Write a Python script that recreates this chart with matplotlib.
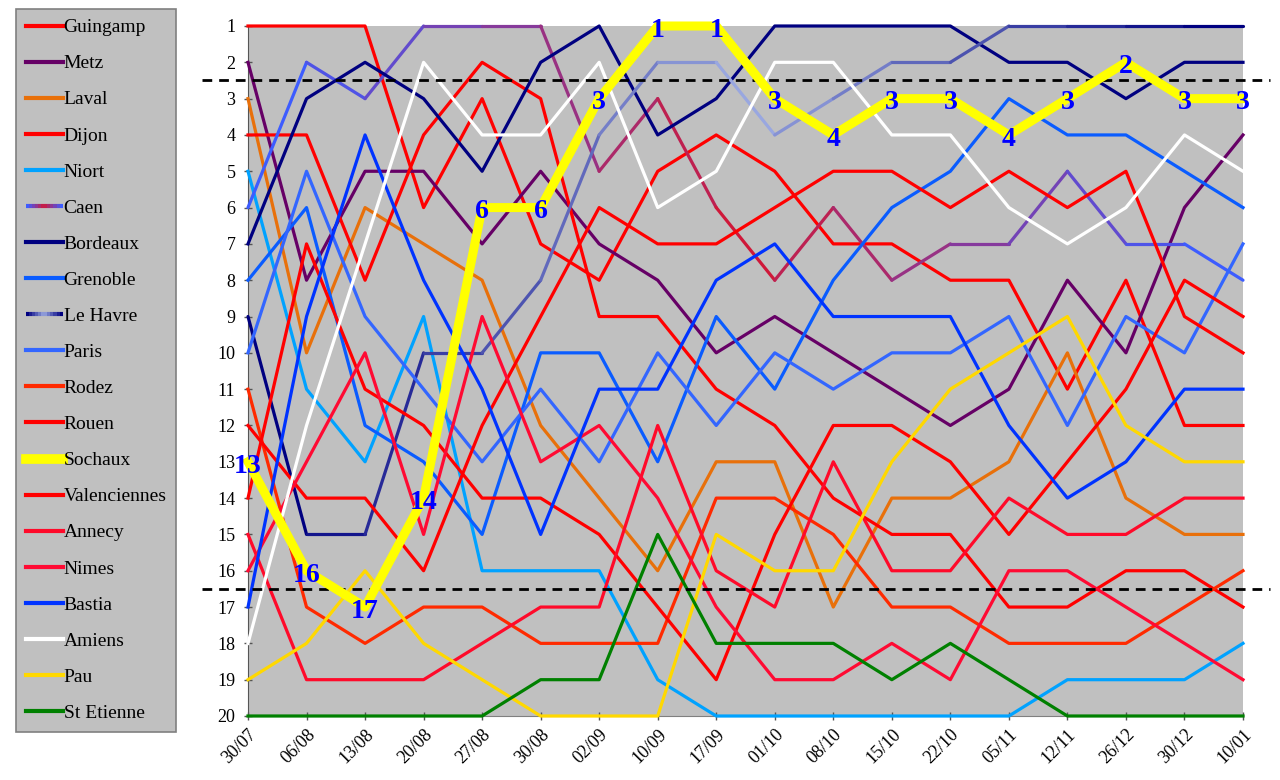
import numpy as np
import matplotlib
matplotlib.use("Agg")
import matplotlib.pyplot as plt
from matplotlib.collections import LineCollection
from matplotlib.colors import LinearSegmentedColormap
from matplotlib.legend_handler import HandlerBase
from matplotlib.lines import Line2D

plt.rcParams['font.family'] = ['Liberation Serif', 'DejaVu Serif']

# Dates (journées)
dates = ["30/07", "06/08", "13/08", "20/08", "27/08", "30/08", "02/09", "10/09", "17/09",
         "01/10", "08/10", "15/10", "22/10", "05/11", "12/11", "26/12", "30/12", "10/01"]

# Classement de chaque équipe
guingamp = [1, 1, 1, 6, 3, 7, 8, 5, 4, 5, 7, 7, 8, 8, 11, 8, 12, 12]
metz = [2, 8, 5, 5, 7, 5, 7, 8, 10, 9, 10, 11, 12, 11, 8, 10, 6, 4]
laval = [3, 10, 6, 7, 8, 12, 14, 16, 13, 13, 17, 14, 14, 13, 10, 14, 15, 15]
dijon = [4, 4, 8, 4, 2, 3, 9, 9, 11, 12, 14, 15, 15, 17, 17, 16, 16, 17]
niort = [5, 11, 13, 9, 16, 16, 16, 19, 20, 20, 20, 20, 20, 20, 19, 19, 19, 18]
caen = [6, 2, 3, 1, 1, 1, 5, 3, 6, 8, 6, 8, 7, 7, 5, 7, 7, 8]
bordeaux = [7, 3, 2, 3, 5, 2, 1, 4, 3, 1, 1, 1, 1, 2, 2, 3, 2, 2]
grenoble = [8, 6, 12, 13, 15, 10, 10, 13, 9, 11, 8, 6, 5, 3, 4, 4, 5, 6]
le_havre = [9, 15, 15, 10, 10, 8, 4, 2, 2, 4, 3, 2, 2, 1, 1, 1, 1, 1]
paris = [10, 5, 9, 11, 13, 11, 13, 10, 12, 10, 11, 10, 10, 9, 12, 9, 10, 7]
rodez = [11, 17, 18, 17, 17, 18, 18, 18, 14, 14, 15, 17, 17, 18, 18, 18, 17, 16]
rouen = [12, 14, 14, 16, 12, 9, 6, 7, 7, 6, 5, 5, 6, 5, 6, 5, 9, 10]
sochaux = [13, 16, 17, 14, 6, 6, 3, 1, 1, 3, 4, 3, 3, 4, 3, 2, 3, 3]
valenciennes = [14, 7, 11, 12, 14, 14, 15, 17, 19, 15, 12, 12, 13, 15, 13, 11, 8, 9]
annecy = [15, 19, 19, 19, 18, 17, 17, 12, 16, 17, 13, 16, 16, 14, 15, 15, 14, 14]
nimes = [16, 13, 10, 15, 9, 13, 12, 14, 17, 19, 19, 18, 19, 16, 16, 17, 18, 19]
bastia = [17, 9, 4, 8, 11, 15, 11, 11, 8, 7, 9, 9, 9, 12, 14, 13, 11, 11]
amiens = [18, 12, 7, 2, 4, 4, 2, 6, 5, 2, 2, 4, 4, 6, 7, 6, 4, 5]
pau = [19, 18, 16, 18, 19, 20, 20, 20, 15, 16, 16, 13, 11, 10, 9, 12, 13, 13]
st_etienne = [20, 20, 20, 20, 20, 19, 19, 15, 18, 18, 18, 19, 18, 19, 20, 20, 20, 20]

# (nom, classement, couleur) - None = dégradé
equipes = [
    ("Guingamp", guingamp, "#FF0000"),
    ("Metz", metz, "#660066"),
    ("Laval", laval, "#E8700A"),
    ("Dijon", dijon, "#FF0000"),
    ("Niort", niort, "#00A2FF"),
    ("Caen", caen, None),
    ("Bordeaux", bordeaux, "#000080"),
    ("Grenoble", grenoble, "#0A5CFF"),
    ("Le Havre", le_havre, None),
    ("Paris", paris, "#3366FF"),
    ("Rodez", rodez, "#FF2A00"),
    ("Rouen", rouen, "#FF0000"),
    ("Sochaux", sochaux, "#FFFF00"),
    ("Valenciennes", valenciennes, "#FF0000"),
    ("Annecy", annecy, "#FF0A2A"),
    ("Nimes", nimes, "#FF0A33"),
    ("Bastia", bastia, "#0033FF"),
    ("Amiens", amiens, "#FFFFFF"),
    ("Pau", pau, "#FFD800"),
    ("St Etienne", st_etienne, "#008000"),
]

degrades = {
    "Caen": LinearSegmentedColormap.from_list("caen", ["#3D5CFF", "#D01838", "#3D5CFF"]),
    "Le Havre": LinearSegmentedColormap.from_list("havre", ["#000080", "#9AA8E0", "#000080"]),
}


class HandlerDegrade(HandlerBase):
    def __init__(self, cmap):
        super().__init__()
        self.cmap = cmap

    def create_artists(self, legend, orig_handle, xdescent, ydescent, width, height, fontsize, trans):
        xs = np.linspace(-xdescent, width - xdescent, 13)
        y = height / 2 - ydescent
        segs = [[(xs[i], y), (xs[i + 1], y)] for i in range(len(xs) - 1)]
        lc = LineCollection(segs, colors=self.cmap(np.linspace(0, 1, len(segs))),
                            linewidths=3, transform=trans, capstyle='butt')
        return [lc]


fig = plt.figure(figsize=(12.8, 7.8), dpi=100)
ax = fig.add_axes([248 / 1280, 1 - 716 / 780, (1243 - 248) / 1280, (716 - 26) / 780])
ax.set_facecolor("#C0C0C0")

x = np.arange(len(dates))
handles = []
handler_map = {}
for nom, rangs, couleur in equipes:
    if nom == "Sochaux":
        h, = ax.plot(x, rangs, color=couleur, lw=6.5, zorder=5, clip_on=False,
                     solid_joinstyle='round', label=nom)
        handles.append(h)
        continue
    if couleur is None:
        pts = np.column_stack([x, rangs])
        segs = np.stack([pts[:-1], pts[1:]], axis=1)
        cmap = degrades[nom]
        lc = LineCollection(segs, colors=cmap(np.linspace(0, 1, len(segs))),
                            linewidths=2.3, capstyle='round', zorder=3, clip_on=False)
        ax.add_collection(lc)
        handles.append(lc)
        handler_map[lc] = HandlerDegrade(cmap)
    else:
        h, = ax.plot(x, rangs, color=couleur, lw=2.3, zorder=3, clip_on=False, label=nom)
        handles.append(h)

# Etiquettes Sochaux
for xi, r in zip(x, sochaux):
    ax.text(xi, r + 0.12, str(r), color="#0000FF", fontsize=20, fontweight='bold',
            ha='center', va='center', zorder=6)

# Lignes de montée / relégation
for yl in (2.5, 16.5):
    ax.plot([-0.78, 17.46], [yl, yl], color='black', lw=2, ls=(0, (3.5, 2.5)),
            clip_on=False, zorder=4)

ax.set_xlim(0, len(dates) - 1)
ax.set_ylim(20, 1)
ax.set_yticks(range(1, 21))
ax.set_yticklabels([str(i) for i in range(1, 21)], fontsize=13)
ax.set_xticks(x)
ax.set_xticklabels(dates, rotation=45, ha='right', rotation_mode='anchor', fontsize=13)
ax.tick_params(axis='both', direction='inout', length=6, width=1, color='#555555')
ax.tick_params(axis='y', pad=6)
ax.tick_params(axis='x', pad=4)
for s in ("top", "right"):
    ax.spines[s].set_visible(False)
ax.spines["left"].set_color("#555555")
ax.spines["bottom"].set_color("#808080")

noms = [e[0] for e in equipes]
leg = fig.legend(handles, noms, handler_map=handler_map, loc='upper left',
                 bbox_to_anchor=(16 / 1280, 1 - 9 / 780), bbox_transform=fig.transFigure,
                 borderaxespad=0, fontsize=14, labelspacing=0.95, handlelength=1.9,
                 handletextpad=0.05, borderpad=0.5, fancybox=False, framealpha=1,
                 facecolor="#C0C0C0", edgecolor="#808080")
leg.get_frame().set_linewidth(1.2)
for h in leg.legend_handles:
    if isinstance(h, Line2D):
        h.set_linewidth(7 if h.get_color() == "#FFFF00" else 3)

fig.savefig("out.png", dpi=100)
